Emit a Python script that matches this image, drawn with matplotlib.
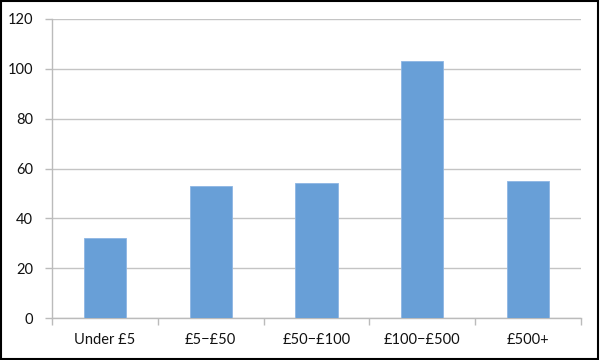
import matplotlib
matplotlib.use("Agg")
import matplotlib.pyplot as plt
from matplotlib.patches import Rectangle

categories = ["Under £5", "£5\u2212£50", "£50\u2212£100", "£100\u2212£500", "£500+"]
values = [32, 53, 54, 103, 55]
yticks = [0, 20, 40, 60, 80, 100, 120]

plt.rcParams['font.family'] = ['Lato', 'DejaVu Sans']

fig = plt.figure(figsize=(6, 3.6), dpi=100)
ax = fig.add_axes([52/600, 1-318/360, (581-52)/600, (318-19)/360])

x = list(range(len(categories)))
ax.bar(x, values, width=0.4, color="#689FD7", edgecolor="#8DB6E3", linewidth=0.6, zorder=3)

ax.set_xlim(-0.5, len(categories)-0.5)
ax.set_ylim(0, 120)
ax.set_yticks(yticks)
ax.set_yticklabels([str(t) for t in yticks], fontsize=10.5, color="#111111")
ax.set_xticks(x)
ax.set_xticklabels(categories, fontsize=10.5, color="#111111")
ax.tick_params(axis='x', length=0, pad=11)
ax.tick_params(axis='y', length=5, width=1, color="#BBBBBB", pad=8.5)

# category boundary ticks on x-axis
ax.set_xticks([i - 0.5 for i in range(len(categories)+1)], minor=True)
ax.tick_params(axis='x', which='minor', length=5, width=1, color="#BBBBBB")

ax.grid(axis='y', color="#C4C4C4", linewidth=1, zorder=0)
for s in ['top', 'right']:
    ax.spines[s].set_visible(False)
for s in ['left', 'bottom']:
    ax.spines[s].set_color("#BBBBBB")
    ax.spines[s].set_linewidth(1)

fig.patches.append(Rectangle((0.002, 0.003), 0.995, 0.994, transform=fig.transFigure,
                             fill=False, edgecolor="black", linewidth=1.5))

fig.savefig("out.png", dpi=100)
